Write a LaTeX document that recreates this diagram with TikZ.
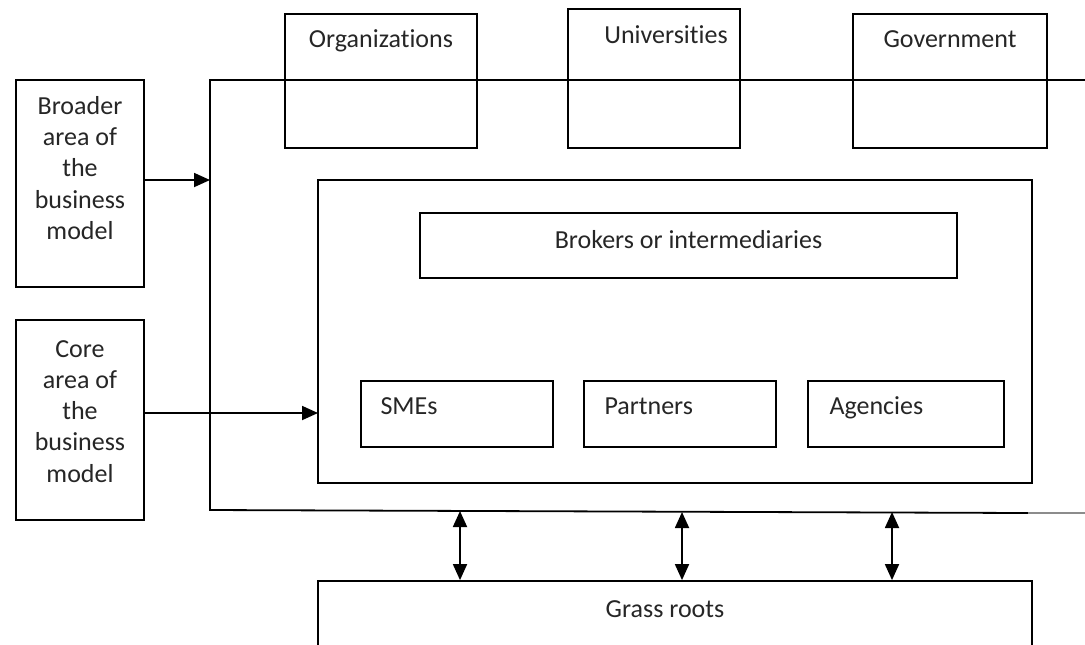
\documentclass[tikz,border=0pt]{standalone}
\usepackage{fontspec}
\setmainfont[Ligatures=NoCommon]{Carlito}
\usetikzlibrary{arrows.meta, positioning}

\begin{document}
\begin{tikzpicture}[x=0.5pt, y=-0.5pt,
        box/.style={draw, line width=0.9pt, inner sep=0pt},
        lbl/.style={inner sep=0pt, text=black!85, font=\fontsize{13}{15.6}\selectfont},
        arr/.style={line width=0.9pt, -{Triangle[length=8pt,width=7pt]}},
        darr/.style={line width=0.9pt, {Triangle[length=8pt,width=7pt]}-{Triangle[length=8pt,width=7pt]}}]
        \useasboundingbox (0,0) rectangle (1085,644);
        \clip (0,0) rectangle (1085,644);
        
        \coordinate (ontl) at (1085,80);
        \coordinate (otl) at (210,80);
        \coordinate (obl) at (210,510);
        \coordinate (obm) at (1028,513);
        \coordinate (obr) at (1085,513);
        
        \draw[line width=0.9pt] (ontl) -- (otl) -- (obl) -- (obm);
        \draw[line width=0.9pt, black!45] (obm) -- (obr);
        
        \node[box, minimum width=96pt, minimum height=67pt] (org) at (381,81)
            [label={[lbl, anchor=base, yshift=-17pt]north:Organizations}] {};
        \node[box, minimum width=86pt, minimum height=69.5pt] (univ) at (654,78.5)
            [label={[lbl, anchor=base, yshift=-17.5pt, xshift=6pt]north:Universities}] {};
        \node[box, minimum width=97pt, minimum height=67pt] (gov) at (950,81)
            [label={[lbl, anchor=base, yshift=-17pt]north:Government}] {};
        
        \node[box, minimum width=64pt, minimum height=103.5pt] (broader) at (80,183.5)
            [label={[lbl, align=center, anchor=north, yshift=-8.5pt]north:Broader\\area of\\the\\business\\model}] {};
        \node[box, minimum width=64pt, minimum height=100pt] (core) at (80,420)
            [label={[lbl, align=center, anchor=north, yshift=-10.5pt]north:Core\\area of\\the\\business\\model}] {};
        
        \node[box, minimum width=357pt, minimum height=151.5pt] (inner) at (675,331.5) {};
        \node[box, minimum width=268.5pt, minimum height=32.5pt] (brokers) at (688.5,245.5)
            [label={[lbl, anchor=base, yshift=-18pt]north:Brokers or intermediaries}] {};
        \node[box, minimum width=96pt, minimum height=33pt] (smes) at (457,414)
            [label={[lbl, anchor=base west, xshift=10pt]west:SMEs}] {};
        \node[box, minimum width=96pt, minimum height=33pt] (partners) at (680,414)
            [label={[lbl, anchor=base west, xshift=10.5pt]west:Partners}] {};
        \node[box, minimum width=98pt, minimum height=33pt] (agencies) at (906,414)
            [label={[lbl, anchor=base west, xshift=11pt]west:Agencies}] {};
        
        \node[box, minimum width=357pt, minimum height=59.5pt] (grass) at (675,640.5)
            [label={[lbl, anchor=base, yshift=-18.5pt, xshift=-5pt]north:Grass roots}] {};
        
        \coordinate (bhit) at (210,180);
        \coordinate (chit) at (318,413);
        \draw[arr] (broader.east |- bhit) -- (bhit);
        \draw[arr] (core.east |- chit) -- (chit);
        
        \coordinate (g1) at (460,511);
        \coordinate (g2) at (682,512);
        \coordinate (g3) at (892,512);
        \foreach \g in {g1,g2,g3}
            \draw[darr] (\g) -- (grass.north -| \g);
    \end{tikzpicture}
\end{document}
